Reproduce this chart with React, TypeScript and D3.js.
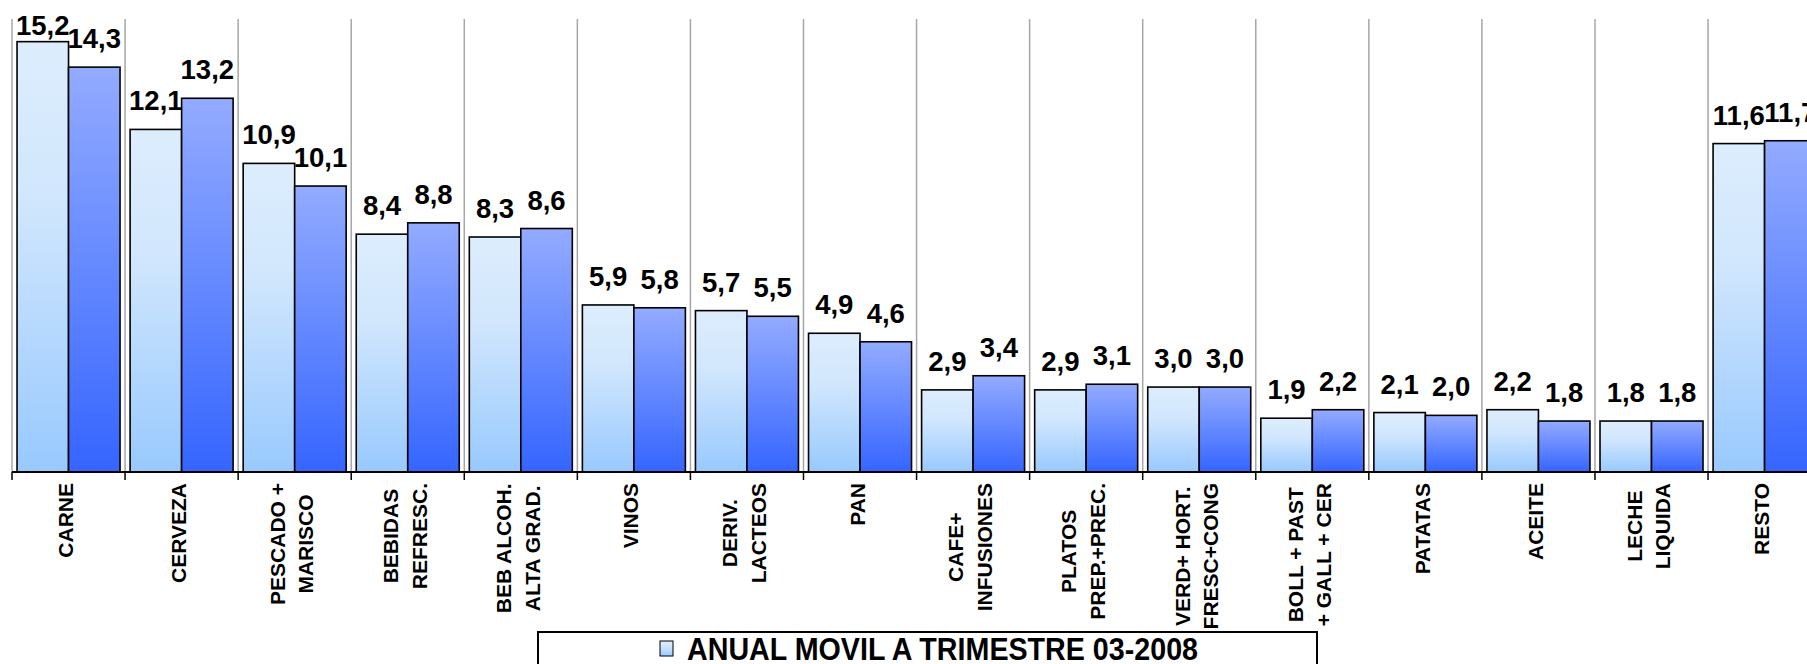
import React from "react";
import * as d3 from "d3";

const categories: string[][] = [
  ["CARNE"],
  ["CERVEZA"],
  ["PESCADO +", "MARISCO"],
  ["BEBIDAS", "REFRESC."],
  ["BEB ALCOH.", "ALTA GRAD."],
  ["VINOS"],
  ["DERIV.", "LACTEOS"],
  ["PAN"],
  ["CAFE+", "INFUSIONES"],
  ["PLATOS", "PREP.+PREC."],
  ["VERD+ HORT.", "FRESC+CONG"],
  ["BOLL + PAST", "+ GALL + CER"],
  ["PATATAS"],
  ["ACEITE"],
  ["LECHE", "LIQUIDA"],
  ["RESTO"],
];

const seriesNames = ["ANUAL MOVIL A TRIMESTRE 03-2008", "ANUAL MOVIL A TRIMESTRE 03-2007"];
const seriesA = [15.2, 12.1, 10.9, 8.4, 8.3, 5.9, 5.7, 4.9, 2.9, 2.9, 3.0, 1.9, 2.1, 2.2, 1.8, 11.6];
const seriesB = [14.3, 13.2, 10.1, 8.8, 8.6, 5.8, 5.5, 4.6, 3.4, 3.1, 3.0, 2.2, 2.0, 1.8, 1.8, 11.7];
const yDomain = [0, 16];

const W = 1807;
const H = 664;
const FONT = '"Liberation Sans", Arial, Helvetica, sans-serif';

let measureCtx: CanvasRenderingContext2D | null = null;
function measure(text: string, font: string): number {
  if (!measureCtx) {
    const c = document.createElement("canvas");
    measureCtx = c.getContext("2d");
  }
  if (!measureCtx) return text.length * 12;
  measureCtx.font = font;
  return measureCtx.measureText(text).width;
}

const fmt = (v: number) => d3.format(".1f")(v).replace(".", ",");

export default function App() {
  const left = 12;
  const step = 113.07;
  const keys = categories.map((_, i) => String(i));
  const x = d3.scaleBand<string>().domain(keys).range([left, left + step * keys.length]).paddingInner(0).paddingOuter(0);
  const xs = d3.scaleBand<string>().domain(["a", "b"]).range([0, x.bandwidth()]).paddingInner(0).paddingOuter(0.0977);
  const y = d3.scaleLinear().domain(yDomain).range([472, 19]);
  const baseY = y(0);

  const boundaries = d3.range(keys.length + 1).map((i) => left + i * x.step());

  const labelFontSize = 21;
  const labelFont = `bold ${labelFontSize}px ${FONT}`;
  const capH = labelFontSize * 0.716;
  const lineSpacing = 28.5;
  const labelTop = 483;

  const valueFont = 27.5;

  const series = [
    { key: "a", values: seriesA, fill: "url(#gradLight)" },
    { key: "b", values: seriesB, fill: "url(#gradDark)" },
  ];

  return (
    <svg
      width={W}
      height={H}
      viewBox={`0 0 ${W} ${H}`}
      style={{ position: "absolute", left: 0, top: 0, background: "#fff" }}
      fontFamily={FONT}
    >
      <defs>
        <linearGradient id="gradLight" x1="0" y1="0" x2="0" y2="1">
          <stop offset="0%" stopColor="#dcedfd" />
          <stop offset="35%" stopColor="#d2e7fd" />
          <stop offset="100%" stopColor="#98c9fe" />
        </linearGradient>
        <linearGradient id="gradDark" x1="0" y1="0" x2="0" y2="1">
          <stop offset="0%" stopColor="#93abff" />
          <stop offset="100%" stopColor="#3565ff" />
        </linearGradient>
      </defs>
      <rect x={0} y={0} width={W} height={H} fill="#fff" />

      {/* vertical gridlines */}
      {boundaries.map((bx, i) => (
        <line key={"g" + i} x1={bx} x2={bx} y1={y(yDomain[1])} y2={baseY} stroke="#a6a6a6" strokeWidth={1.5} />
      ))}

      {/* bars */}
      {series.map((s) =>
        s.values.map((v, i) => {
          const bx = (x(String(i)) as number) + (xs(s.key) as number);
          const by = y(v);
          return (
            <rect
              key={s.key + i}
              x={bx}
              y={by}
              width={xs.bandwidth()}
              height={baseY - by}
              fill={s.fill}
              stroke="#000"
              strokeWidth={1.6}
            />
          );
        })
      )}

      {/* axis */}
      <line x1={left} x2={W} y1={baseY} y2={baseY} stroke="#000" strokeWidth={2} />
      {boundaries.map((bx, i) => (
        <line key={"t" + i} x1={bx} x2={bx} y1={baseY} y2={baseY + 8} stroke="#000" strokeWidth={1.5} />
      ))}

      {/* value labels */}
      {series.map((s) =>
        s.values.map((v, i) => {
          const cx = (x(String(i)) as number) + (xs(s.key) as number) + xs.bandwidth() / 2;
          const ty = Math.max(y(v) - 19, 35);
          return (
            <text
              key={"v" + s.key + i}
              x={cx}
              y={ty}
              textAnchor="middle"
              fontSize={valueFont}
              fontWeight="bold"
              fill="#000"
            >
              {fmt(v)}
            </text>
          );
        })
      )}

      {/* legend */}
      <rect x={538} y={632} width={779} height={60} fill="#fff" stroke="#000" strokeWidth={2} />
      <rect x={660} y={641} width={13} height={15} fill="url(#gradLight)" stroke="#000" strokeWidth={1} />
      <text
        x={687}
        y={660}
        fontSize={31}
        fontWeight="bold"
        fill="#000"
        textLength={511}
        lengthAdjust="spacingAndGlyphs"
      >
        {seriesNames[0]}
      </text>

      {/* category labels */}
      {categories.map((lines, i) => {
        const cx = (x(String(i)) as number) + x.bandwidth() / 2 - 3;
        const maxW = d3.max(lines, (l) => measure(l, labelFont)) || 0;
        const cy = labelTop + maxW / 2;
        const n = lines.length;
        return (
          <g key={"c" + i}>
            {lines.map((l, j) => {
              const lx = cx + (j - (n - 1) / 2) * lineSpacing + capH / 2;
              return (
                <text
                  key={j}
                  transform={`translate(${lx},${cy}) rotate(-90)`}
                  textAnchor="middle"
                  fontSize={labelFontSize}
                  fontWeight="bold"
                  fill="#000"
                >
                  {l}
                </text>
              );
            })}
          </g>
        );
      })}
    </svg>
  );
}
